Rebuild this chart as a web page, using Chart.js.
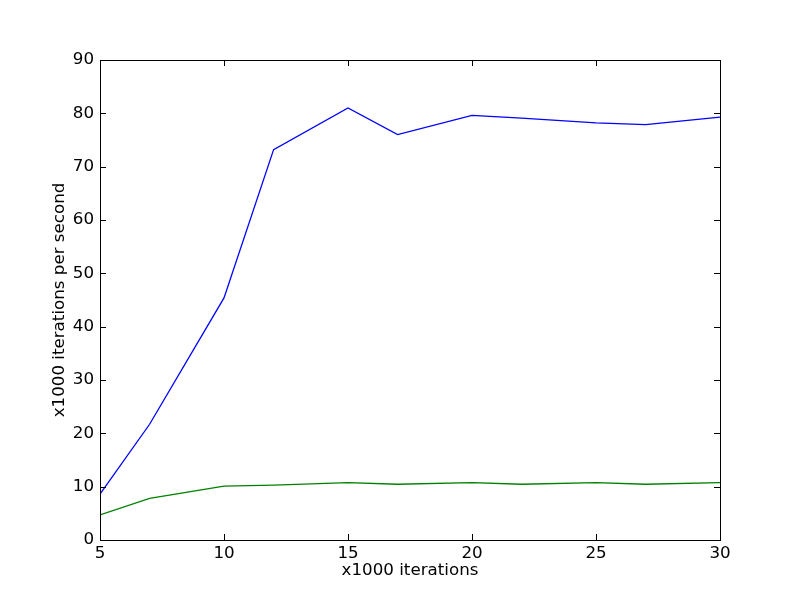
<!DOCTYPE html>
<html>
<head>
<meta charset="utf-8">
<script src="https://cdn.jsdelivr.net/npm/chart.js@4"></script>
<style>
	html, body { margin: 0; padding: 0; background: #fff; }
	#wrap { width: 800px; height: 600px; }
</style>
</head>
<body>
<div id="wrap"><canvas id="perfChart" width="800" height="600"></canvas></div>
<script>
// x1000 iterations
const iterations = [5, 7, 10, 12, 15, 17, 20, 22, 25, 27, 30];
// x1000 iterations per second
const blueSpeed = [8.6, 21.7, 45.4, 73.2, 81.0, 76.0, 79.6, 79.1, 78.2, 77.9, 79.3];
const greenSpeed = [4.7, 7.8, 10.1, 10.3, 10.75, 10.45, 10.75, 10.45, 10.75, 10.45, 10.75];
const xTicks = [5, 10, 15, 20, 25, 30];
const yTicks = [0, 10, 20, 30, 40, 50, 60, 70, 80, 90];

const font = { family: 'DejaVu Sans', size: 16.7 };

// matplotlib 스타일 박스와 안쪽 눈금
const boxPlugin = {
	id: 'mplBox',
	afterDatasetsDraw(chart) {
		const { ctx, chartArea: a, scales } = chart;
		ctx.save();
		ctx.strokeStyle = '#000';
		ctx.lineWidth = 1;
		ctx.beginPath();
		xTicks.forEach(v => {
			const x = Math.round(scales.x.getPixelForValue(v)) + 0.5;
			ctx.moveTo(x, a.bottom); ctx.lineTo(x, a.bottom - 6);
			ctx.moveTo(x, a.top); ctx.lineTo(x, a.top + 6);
		});
		yTicks.forEach(v => {
			const y = Math.round(scales.y.getPixelForValue(v)) + 0.5;
			ctx.moveTo(a.left, y); ctx.lineTo(a.left + 6, y);
			ctx.moveTo(a.right, y); ctx.lineTo(a.right - 6, y);
		});
		ctx.stroke();
		ctx.strokeRect(a.left + 0.5, a.top + 0.5, a.right - a.left, a.bottom - a.top);
		ctx.restore();
	}
};

const ctx = document.getElementById('perfChart').getContext('2d');
const perfChart = new Chart(ctx, {
	type: 'line',
	data: {
		labels: iterations,
		datasets: [
			{
				data: iterations.map((x, i) => ({ x: x, y: blueSpeed[i] })),
				borderColor: '#0000ff',
				borderWidth: 1.3,
				pointRadius: 0,
				tension: 0
			},
			{
				data: iterations.map((x, i) => ({ x: x, y: greenSpeed[i] })),
				borderColor: '#008000',
				borderWidth: 1.3,
				pointRadius: 0,
				tension: 0
			}
		]
	},
	options: {
		responsive: false,
		animation: false,
		layout: { padding: { left: 0, right: 80, top: 60, bottom: 0 } },
		plugins: { legend: { display: false }, tooltip: { enabled: false } },
		scales: {
			x: {
				type: 'linear',
				min: 5,
				max: 30,
				afterFit: s => { s.height = 60; },
				afterBuildTicks: s => { s.ticks = xTicks.map(v => ({ value: v })); },
				grid: { display: false, drawTicks: false },
				border: { display: false },
				ticks: { color: '#000', font: font, padding: 4, maxRotation: 0 },
				title: { display: true, text: 'x1000 iterations', color: '#000', font: font, padding: { top: 0, bottom: 19 } }
			},
			y: {
				type: 'linear',
				min: 0,
				max: 90,
				afterFit: s => { s.width = 100; },
				afterBuildTicks: s => { s.ticks = yTicks.map(v => ({ value: v })); },
				grid: { display: false, drawTicks: false },
				border: { display: false },
				ticks: { color: '#000', font: font, padding: 6 },
				title: { display: true, text: 'x1000 iterations per second', color: '#000', font: font, padding: { top: 50, bottom: 0 } }
			}
		}
	},
	plugins: [boxPlugin]
});
</script>
</body>
</html>
